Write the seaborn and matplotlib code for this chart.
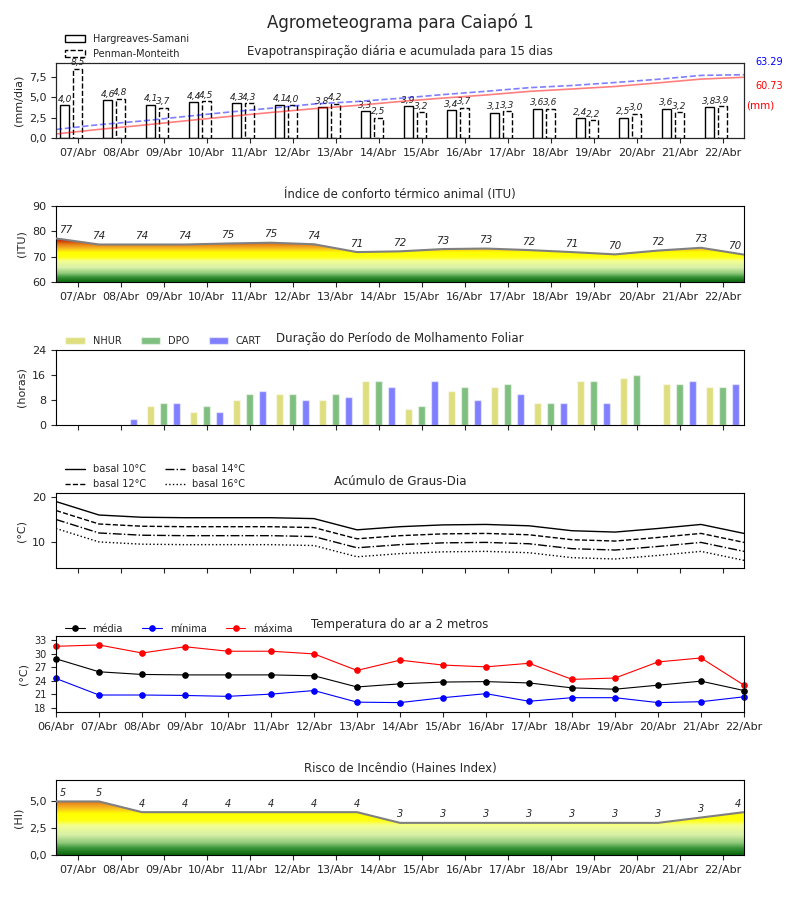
import numpy as np
import pandas as pd
import matplotlib
matplotlib.use("Agg")
import matplotlib.pyplot as plt
import seaborn as sns
from matplotlib.colors import LinearSegmentedColormap
from matplotlib.patches import Patch, Polygon

dias = ["07/Abr", "08/Abr", "09/Abr", "10/Abr", "11/Abr", "12/Abr", "13/Abr", "14/Abr",
        "15/Abr", "16/Abr", "17/Abr", "18/Abr", "19/Abr", "20/Abr", "21/Abr", "22/Abr"]
dias_temp = ["06/Abr"] + dias

et_hargreaves = [4.0, 4.6, 4.1, 4.4, 4.3, 4.1, 3.8, 3.3, 3.9, 3.4, 3.1, 3.6, 2.4, 2.5, 3.6, 3.8]
et_penman = [8.5, 4.8, 3.7, 4.5, 4.3, 4.0, 4.2, 2.5, 3.2, 3.7, 3.3, 3.6, 2.2, 3.0, 3.2, 3.9]
acum_hargreaves = [4.0, 8.6, 12.7, 17.1, 21.4, 25.5, 29.3, 32.6, 36.5, 39.9, 43.0, 46.6,
                   49.0, 51.5, 55.1, 58.9, 60.73]
acum_penman = [8.5, 13.3, 17.0, 21.5, 25.8, 29.8, 34.0, 36.5, 39.7, 43.4, 46.7, 50.3,
               52.5, 55.5, 58.7, 62.6, 63.29]

itu = [77.2, 74.8, 74.8, 74.8, 75.2, 75.5, 74.9, 71.8, 72.1, 73.0, 73.2, 72.6,
       71.8, 70.9, 72.4, 73.5, 70.8]

nhur = [0, 0, 6, 4, 8, 10, 8, 14, 5, 11, 12, 7, 14, 15, 13, 12]
dpo = [0, 0, 7, 6, 10, 10, 10, 14, 6, 12, 13, 7, 14, 16, 13, 12]
cart = [0, 2, 7, 4, 11, 8, 9, 12, 14, 8, 10, 7, 7, 0, 14, 13]

gd_basal10 = [19.0, 16.0, 15.5, 15.4, 15.4, 15.4, 15.2, 12.7, 13.4, 13.8, 13.9, 13.6,
              12.5, 12.2, 13.0, 13.9, 11.9]
gd_basal12 = [17.0, 14.0, 13.5, 13.4, 13.4, 13.4, 13.2, 10.7, 11.4, 11.8, 11.9, 11.6,
              10.5, 10.2, 11.0, 11.9, 9.9]
gd_basal14 = [15.0, 12.0, 11.5, 11.4, 11.4, 11.4, 11.2, 8.7, 9.4, 9.8, 9.9, 9.6,
              8.5, 8.2, 9.0, 9.9, 7.9]
gd_basal16 = [13.0, 10.0, 9.5, 9.4, 9.4, 9.4, 9.2, 6.7, 7.4, 7.8, 7.9, 7.6,
              6.5, 6.2, 7.0, 7.9, 5.9]

t_media = [28.9, 26.0, 25.4, 25.3, 25.3, 25.3, 25.1, 22.6, 23.3, 23.7, 23.8, 23.5,
           22.4, 22.1, 23.0, 23.9, 21.8]
t_minima = [24.5, 20.8, 20.8, 20.7, 20.5, 21.0, 21.8, 19.2, 19.1, 20.2, 21.1, 19.4,
            20.2, 20.2, 19.1, 19.3, 20.4]
t_maxima = [31.7, 32.0, 30.2, 31.6, 30.6, 30.6, 30.0, 26.3, 28.6, 27.5, 27.1, 27.9,
            24.3, 24.6, 28.2, 29.1, 23.0]

haines = [5, 5, 4, 4, 4, 4, 4, 4, 3, 3, 3, 3, 3, 3, 3, 3.5, 4]

# ---- estilo ----
sns.set_style("ticks")
plt.rcParams['font.family'] = ['DejaVu Sans']
plt.rcParams['font.size'] = 8

cores_risco = [(0.00, "#0a640a"), (0.11, "#3a963a"), (0.19, "#8cc878"), (0.32, "#d8f0a8"),
               (0.47, "#f4ff90"), (0.55, "#ffff10"), (0.66, "#ffff00"), (0.74, "#f8c020"),
               (0.79, "#f0a020"), (0.86, "#e07010"), (0.92, "#d03000"), (1.00, "#c00000")]
cmap_risco = LinearSegmentedColormap.from_list("risco", cores_risco)

x_dia = np.arange(16) + 0.5      # centro dos dias 07..22
x_pts = np.arange(17)            # pontos 06..22


def virgula(v, casas=1):
    return f"{v:.{casas}f}".replace(".", ",")


def gradiente(ax, x, y, base, topo):
    # preenche a area abaixo da curva com o degrade verde -> amarelo -> vermelho
    grad = np.linspace(0, 1, 256).reshape(-1, 1)
    im = ax.imshow(grad, extent=[x[0], x[-1], base, topo], origin="lower",
                   aspect="auto", cmap=cmap_risco, zorder=1)
    verts = [(x[0], base)] + list(zip(x, y)) + [(x[-1], base)]
    poly = Polygon(verts, closed=True, facecolor="none", edgecolor="none")
    ax.add_patch(poly)
    im.set_clip_path(poly)


def rotulos_pontos(ax, x, y, fs):
    for i, (xi, yi) in enumerate(zip(x, y)):
        ha, dx = "center", 0
        if i == 0:
            ha, dx = "left", 2.5
        elif i == len(x) - 1:
            ha, dx = "right", -2
        ax.annotate(f"{int(yi)}", (xi, yi), xytext=(dx, 2.5), textcoords="offset points",
                    ha=ha, va="bottom", fontsize=fs, style="italic", zorder=5)


fig = plt.figure(figsize=(8, 9), dpi=100)
fig.suptitle("Agrometeograma para Caiapó 1", fontsize=12, y=0.985)

L, W = 0.07, 0.86
ax1 = fig.add_axes([L, 0.8467, W, 0.0833])
ax2 = fig.add_axes([L, 0.6867, W, 0.0844])
ax3 = fig.add_axes([L, 0.5278, W, 0.0833])
ax4 = fig.add_axes([L, 0.3689, W, 0.0833])
ax5 = fig.add_axes([L, 0.2089, W, 0.0844])
ax6 = fig.add_axes([L, 0.0500, W, 0.0833])

leg_x = 0.008

# ---- 1. Evapotranspiração ----
sns.barplot(x=x_dia - 0.3, y=et_hargreaves, native_scale=True, width=0.21, fill=False,
            color="k", saturation=1, linewidth=1, errorbar=None, ax=ax1)
sns.barplot(x=x_dia, y=et_penman, native_scale=True, width=0.21, fill=False,
            color="k", saturation=1, linewidth=1, linestyle="--", errorbar=None, ax=ax1)
for cont, vals in zip(ax1.containers, [et_hargreaves, et_penman]):
    ax1.bar_label(cont, labels=[virgula(v) for v in vals], padding=1, fontsize=6.5,
                  style="italic")
ax1.set_xlim(0, 16)
ax1.set_ylim(0, 9.2)
ax1.set_yticks([0, 2.5, 5.0, 7.5])
ax1.set_yticklabels([virgula(v) for v in [0, 2.5, 5.0, 7.5]])
ax1.set_xticks(x_dia)
ax1.set_xticklabels(dias)
ax1.set_ylabel("(mm/dia)")
ax1.set_title("Evapotranspiração diária e acumulada para 15 dias", fontsize=8.5)
ax1.legend(handles=[Patch(facecolor="white", edgecolor="k", lw=1, label="Hargreaves-Samani"),
                    Patch(facecolor="white", edgecolor="k", lw=1, ls="--", label="Penman-Monteith")],
           loc="lower left", bbox_to_anchor=(leg_x, 1.0), frameon=False, fontsize=7,
           borderaxespad=0, handlelength=2.0)
ax1b = ax1.twinx()
sns.lineplot(x=x_pts, y=acum_hargreaves, color="r", alpha=0.5, lw=1.2, ax=ax1b)
sns.lineplot(x=x_pts, y=acum_penman, color="b", alpha=0.5, lw=1.2, ls="--", ax=ax1b)
ax1b.set_ylim(0, 75)
ax1b.set_yticks([])
ax1b.set_xlim(0, 16)
ax1.text(1.016, 1.013, f"{acum_penman[-1]:.2f}", color="blue", fontsize=7,
         transform=ax1.transAxes, va="center")
ax1.text(1.016, 0.693, f"{acum_hargreaves[-1]:.2f}", color="red", fontsize=7,
         transform=ax1.transAxes, va="center")
ax1.text(1.003, 0.427, "(mm)", color="red", fontsize=7.5, transform=ax1.transAxes,
         va="center")

# ---- 2. ITU ----
gradiente(ax2, x_pts, itu, 60, 77.5)
sns.lineplot(x=x_pts, y=itu, color="gray", lw=1.5, ax=ax2, zorder=3)
rotulos_pontos(ax2, x_pts, itu, 7.5)
ax2.set_xlim(0, 16)
ax2.set_ylim(60, 90)
ax2.set_yticks([60, 70, 80, 90])
ax2.set_xticks(x_dia)
ax2.set_xticklabels(dias)
ax2.set_ylabel("(ITU)")
ax2.set_title("Índice de conforto térmico animal (ITU)", fontsize=8.5)

# ---- 3. Molhamento foliar ----
mol = pd.DataFrame({
    "pos": np.tile(x_dia, 3),
    "horas": nhur + dpo + cart,
    "tipo": ["NHUR"] * 16 + ["DPO"] * 16 + ["CART"] * 16,
})
cores_mol = {"NHUR": "y", "DPO": "g", "CART": "b"}
sns.barplot(data=mol, x="pos", y="horas", hue="tipo", native_scale=True, width=0.9,
            gap=0.47, palette=cores_mol, alpha=0.5, saturation=1, errorbar=None,
            legend=False, ax=ax3)
ax3.set_xlim(0, 16)
ax3.set_ylim(0, 24)
ax3.set_yticks([0, 8, 16, 24])
ax3.set_xticks(x_dia)
ax3.set_xticklabels([])
ax3.set_xlabel("")
ax3.set_ylabel("(horas)")
ax3.set_title("Duração do Período de Molhamento Foliar", fontsize=8.5)
ax3.legend(handles=[Patch(facecolor=c, alpha=0.5, label=k) for k, c in cores_mol.items()],
           loc="lower left", bbox_to_anchor=(leg_x, 1.0), ncol=3, frameon=False, fontsize=7,
           borderaxespad=0)

# ---- 4. Graus-dia ----
for serie, ls, nome in [(gd_basal10, "-", "basal 10°C"), (gd_basal12, "--", "basal 12°C"),
                        (gd_basal14, "-.", "basal 14°C"), (gd_basal16, ":", "basal 16°C")]:
    sns.lineplot(x=x_pts, y=serie, color="k", lw=1, ls=ls, label=nome, ax=ax4)
ax4.set_xlim(0, 16)
ax4.set_ylim(4.2, 20.9)
ax4.set_yticks([10, 20])
ax4.set_xticks(x_dia)
ax4.set_xticklabels([])
ax4.set_ylabel("(°C)")
ax4.set_title("Acúmulo de Graus-Dia", fontsize=8.5)
ax4.legend(loc="lower left", bbox_to_anchor=(leg_x, 1.0), ncol=2, frameon=False, fontsize=7,
           borderaxespad=0)

# ---- 5. Temperatura ----
for serie, cor, nome in [(t_media, "k", "média"), (t_minima, "b", "mínima"),
                         (t_maxima, "r", "máxima")]:
    sns.lineplot(x=x_pts, y=serie, color=cor, lw=0.8, marker="o", markersize=4,
                 markeredgecolor=cor, label=nome, ax=ax5, clip_on=False)
ax5.set_xlim(0, 16)
ax5.set_ylim(17, 34)
ax5.set_yticks([18, 21, 24, 27, 30, 33])
ax5.set_xticks(x_pts)
ax5.set_xticklabels(dias_temp)
ax5.set_ylabel("(°C)")
ax5.set_title("Temperatura do ar a 2 metros", fontsize=8.5)
ax5.legend(loc="lower left", bbox_to_anchor=(leg_x, 0.98), ncol=3, frameon=False, fontsize=7,
           borderaxespad=0)

# ---- 6. Haines ----
gradiente(ax6, x_pts, haines, 0, 5.8)
sns.lineplot(x=x_pts, y=haines, color="gray", lw=1.5, ax=ax6, zorder=3)
rotulos_pontos(ax6, x_pts, haines, 7)
ax6.set_xlim(0, 16)
ax6.set_ylim(0, 7)
ax6.set_yticks([0, 2.5, 5.0])
ax6.set_yticklabels([virgula(v) for v in [0, 2.5, 5.0]])
ax6.set_xticks(x_dia)
ax6.set_xticklabels(dias)
ax6.set_ylabel("(HI)")
ax6.set_title("Risco de Incêndio (Haines Index)", fontsize=8.5)

for ax in [ax1, ax2, ax3, ax4, ax5, ax6]:
    ax.tick_params(labelsize=8)
    for s in ax.spines.values():
        s.set_color("k")
ax5.tick_params(axis="y", labelsize=7)

fig.savefig("out.png", dpi=100)
